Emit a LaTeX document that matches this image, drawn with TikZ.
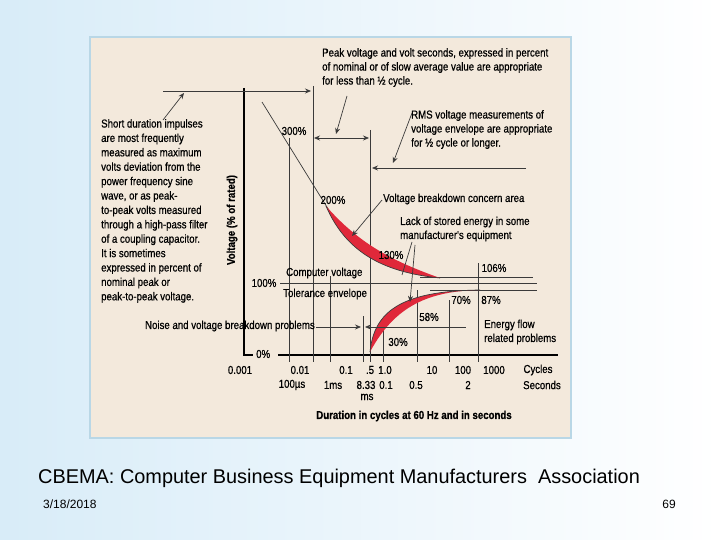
\documentclass[tikz,border=0pt]{standalone}
\usepackage{fontspec}
\setmainfont{Liberation Sans}
\newfontfamily\cond[FakeStretch=0.84,FakeBold=0.6]{Liberation Sans}
\usetikzlibrary{arrows.meta}
\definecolor{beige}{HTML}{F3E9DC}
\definecolor{frameb}{HTML}{B9D7E6}
\definecolor{slideb}{HTML}{D8ECF8}
\definecolor{redband}{HTML}{E0283A}
\definecolor{gr}{HTML}{3A3A3A}
\tikzset{
 lbl/.style={font=\cond\fontsize{11.5}{14}\selectfont, inner sep=0pt, text=black},
 ln/.style={draw=gr, line width=0.7pt},
 arr/.style={ln, -{Stealth[length=6pt,width=5pt]}},
}
\begin{document}
\begin{tikzpicture}[x=1pt,y=-1pt]
\useasboundingbox (0,0) rectangle (720,540);
\shade[left color=slideb, right color=white] (0,0) rectangle (720,540);
\fill[beige, draw=frameb, line width=2pt] (90,37) rectangle (571,438);
% axes
\draw[line width=1.6pt] (244,88) -- (244,355) -- (253,355);
\node[lbl, anchor=west] (z0) at (256,354) {0\%};
\draw[line width=2.2pt] (278,355) -- (558,355);
% verticals
\draw[ln] (289,138) -- (289,362);
\draw[ln] (313,86) -- (313,362);
\draw[ln] (330,276) -- (330,362);
\draw[ln] (363,316) -- (363,362);
\draw[ln] (370,130) -- (370,362);
\draw[ln] (383,330) -- (383,362);
\draw[ln] (417,290) -- (417,362);
\draw[ln] (449,300) -- (449,362);
\draw[ln] (478,263) -- (478,362);
% horizontals
\coordinate (t0) at (163,91); \coordinate (t1) at (311,91);
\draw[arr] (t0) -- (t1);
\coordinate (h0) at (314,138); \coordinate (h1) at (369,138);
\draw[ln, {Stealth[length=6pt,width=5pt]}-{Stealth[length=6pt,width=5pt]}] (h0) -- (h1);
\coordinate (r0) at (526,168); \coordinate (r1) at (372,168);
\draw[arr] (r0) -- (r1);
\draw[ln] (280,283) -- (537,283);
\draw[ln] (420,277) -- (533,277);
\draw[ln] (430,290) -- (537,290);
% upper curve
\draw[ln] (262,102) -- (330,212);
\fill[redband] (326,206) .. controls (345,250) and (380,272) .. (440,278) .. controls (395,262) and (360,245) .. (326,206);
\draw[ln] (326,206) .. controls (345,250) and (380,272) .. (440,278);
\fill[redband] (370,352) .. controls (374,312) and (400,291) .. (480,290) .. controls (430,291) and (395,305) .. (370,352);
\draw[ln] (370,352) .. controls (374,312) and (400,291) .. (480,290);
% noise arrows
\coordinate (n0) at (316,327); \coordinate (n1) at (361,327);
\draw[arr] (n0) -- (n1);
\coordinate (n2) at (380,327); \coordinate (n3) at (365,327);
\draw[arr] (n2) -- (n3);
\draw[ln] (380,327) -- (466,327);
% callout arrows
\coordinate (s0) at (163,120); \coordinate (s1) at (184,93);
\draw[arr] (s0) -- (s1);
\coordinate (p0) at (347,96); \coordinate (p1) at (336,134);
\draw[arr] (p0) -- (p1);
\coordinate (q0) at (412,113); \coordinate (q1) at (393,163);
\draw[arr] (q0) -- (q1);
\coordinate (v0) at (382,200); \coordinate (v1) at (352,236);
\draw[arr] (v0) -- (v1);
\coordinate (l0) at (412,242); \coordinate (l1) at (402,275);
\draw[ln] (l0) -- (l1);
\coordinate (l3) at (415,245); \coordinate (l4) at (410,302);
\draw[arr] (l3) -- (l4);
% texts
\node[lbl, anchor=north west, align=left] (peak) at (322,48) {Peak voltage and volt seconds, expressed in percent\\of nominal or of slow average value are appropriate\\for less than \textonehalf{} cycle.};
\node[lbl, anchor=north west, align=left] (rms) at (411,110) {RMS voltage measurements of\\voltage envelope are appropriate\\for \textonehalf{} cycle or longer.};
\node[lbl, anchor=north west, align=left, font=\cond\fontsize{11.5}{14.4}\selectfont] (short) at (101,119) {Short duration impulses\\are most frequently\\measured as maximum\\volts deviation from the\\power frequency sine\\wave, or as peak-\\to-peak volts measured\\through a high-pass filter\\of a coupling capacitor.\\It is sometimes\\expressed in percent of\\nominal peak or\\peak-to-peak voltage.};
\node[lbl, rotate=90, font=\cond\bfseries\fontsize{11.5}{14}\selectfont] (ylab) at (232,220) {Voltage (\% of rated)};
\node[lbl] (p300) at (294,131) {300\%};
\node[lbl] (p200) at (333,200) {200\%};
\node[lbl] (p130) at (391,255) {130\%};
\node[lbl] (p106) at (494,268) {106\%};
\node[lbl] (p100) at (264,283) {100\%};
\node[lbl, anchor=west] (cv) at (286,273) {Computer voltage};
\node[lbl, anchor=west] (te) at (283,294) {Tolerance envelope};
\node[lbl] (p70) at (461,300) {70\%};
\node[lbl] (p87) at (491,300) {87\%};
\node[lbl] (p58) at (429,317) {58\%};
\node[lbl] (p30) at (398,342) {30\%};
\node[lbl, anchor=west] (vb) at (383,199) {Voltage breakdown concern area};
\node[lbl, anchor=west, align=left] (lack) at (400,229) {Lack of stored energy in some\\manufacturer's equipment};
\node[lbl, anchor=east] (noise) at (315,326) {Noise and voltage breakdown problems};
\node[lbl, anchor=west, align=left] (ef) at (484,332) {Energy flow\\related problems};
\node[lbl] (x1) at (240,370) {0.001};
\node[lbl] (x2) at (300,370) {0.01};
\node[lbl] (x3) at (346,370) {0.1};
\node[lbl] (x4) at (370,370) {.5};
\node[lbl] (x5) at (385,370) {1.0};
\node[lbl] (x6) at (432,370) {10};
\node[lbl] (x7) at (463,370) {100};
\node[lbl] (x8) at (494,370) {1000};
\node[lbl] (x9) at (538,370) {Cycles};
\node[lbl] (s1t) at (292,385) {100\textmu s};
\node[lbl] (s2t) at (333,385) {1ms};
\node[lbl] (s3t) at (366,385) {8.33};
\node[lbl] (s4t) at (386,385) {0.1};
\node[lbl] (s5t) at (416,385) {0.5};
\node[lbl] (s6t) at (468,385) {2};
\node[lbl] (s7t) at (542,385) {Seconds};
\node[lbl] (mst) at (367,397) {ms};
\node[lbl, font=\cond\bfseries\fontsize{11.5}{14}\selectfont] (dur) at (414,416) {Duration in cycles at 60 Hz and in seconds};
% slide texts
\node[inner sep=0pt, font=\fontsize{19.9}{22}\selectfont, anchor=west] (cap) at (38,478) {CBEMA: Computer Business Equipment Manufacturers\ \ Association};
\node[inner sep=0pt, font=\fontsize{12}{14}\selectfont, anchor=west] (date) at (43,504) {3/18/2018};
\node[inner sep=0pt, font=\fontsize{12}{14}\selectfont] (pg) at (669,504) {69};
\end{tikzpicture}
\end{document}
